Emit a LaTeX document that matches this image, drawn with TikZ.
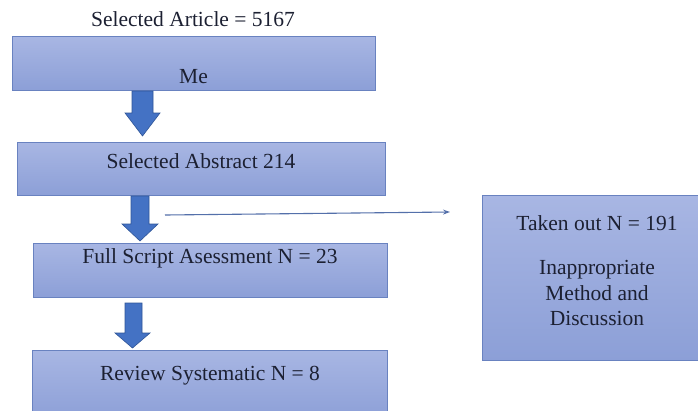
\documentclass[tikz,border=0pt]{standalone}
\usepackage{fontspec}
\setmainfont{Liberation Serif}
\usetikzlibrary{calc,arrows.meta}
\definecolor{boxtop}{RGB}{168,182,227}
\definecolor{boxbot}{RGB}{140,159,215}
\definecolor{boxline}{RGB}{105,130,192}
\definecolor{arrfill}{RGB}{68,114,196}
\definecolor{arrline}{RGB}{47,85,151}
\definecolor{txt}{RGB}{28,32,50}
\definecolor{thinline}{RGB}{84,112,170}
\tikzset{
  box/.style={draw=boxline, line width=1pt, top color=boxtop, bottom color=boxbot,
    rectangle, anchor=north west, inner sep=0pt},
  lbl/.style={text=txt, font=\fontsize{21.5}{25}\selectfont, inner sep=0pt},
  blockarr/.style={fill=arrfill, draw=arrline, line width=0.6pt, line join=miter},
  thin/.style={draw=thinline, line width=1.1pt, -{Stealth[length=7pt,width=5pt]}}
}
\begin{document}
\begin{tikzpicture}[x=1pt,y=-1pt]
\useasboundingbox (0,0) rectangle (698,410);
\clip (0,0) rectangle (698,410);
\fill[white] (0,0) rectangle (698,410);

\node[lbl] (title) at (193,19) {Selected Article = 5167};

\node[box, minimum width=363pt, minimum height=54pt] (b1) at (12,36) {};
\node[lbl] (t1) at (193.5,77) {Me};

\node[box, minimum width=368pt, minimum height=53pt] (b2) at (17,142) {};
\node[lbl] (t2) at (201,161) {Selected Abstract 214};

\node[box, minimum width=354pt, minimum height=54pt] (b3) at (33,243) {};
\node[lbl] (t3) at (210,258) {Full Script Asessment N = 23};

\node[box, minimum width=355pt, minimum height=70pt] (b4) at (32,350) {};
\node[lbl] (t4) at (210,376) {Review Systematic N = 8};

\node[box, minimum width=230pt, minimum height=165pt] (b5) at (482,195) {};
\node[lbl] (t5a) at (597,223) {Taken out N = 191};
\node[lbl, align=center, font=\fontsize{21.5}{25.5}\selectfont] (t5b) at (597,293) {Inappropriate\\Method and\\Discussion};

% block arrows
\path (b1.south west) ++(120,0) coordinate (a1);
\draw[blockarr] (a1) -- ++(0,22) -- ++(-7,0) -- ++(17.5,23) -- ++(17.5,-23) -- ++(-7,0) -- ++(0,-22) -- cycle;

\path (b2.south west) ++(114,0) coordinate (a2);
\draw[blockarr] (a2) -- ++(0,28) -- ++(-9,0) -- ++(18,17) -- ++(18,-17) -- ++(-9,0) -- ++(0,-28) -- cycle;

\path (b3.south west) ++(92,5) coordinate (a3);
\draw[blockarr] (a3) -- ++(0,30) -- ++(-10,0) -- ++(17.5,15) -- ++(17.5,-15) -- ++(-8,0) -- ++(0,-30) -- cycle;

% thin arrow
\coordinate (s) at (165,215);
\coordinate (e) at (450,212);
\draw[thin] (s) -- (e);
\end{tikzpicture}
\end{document}
